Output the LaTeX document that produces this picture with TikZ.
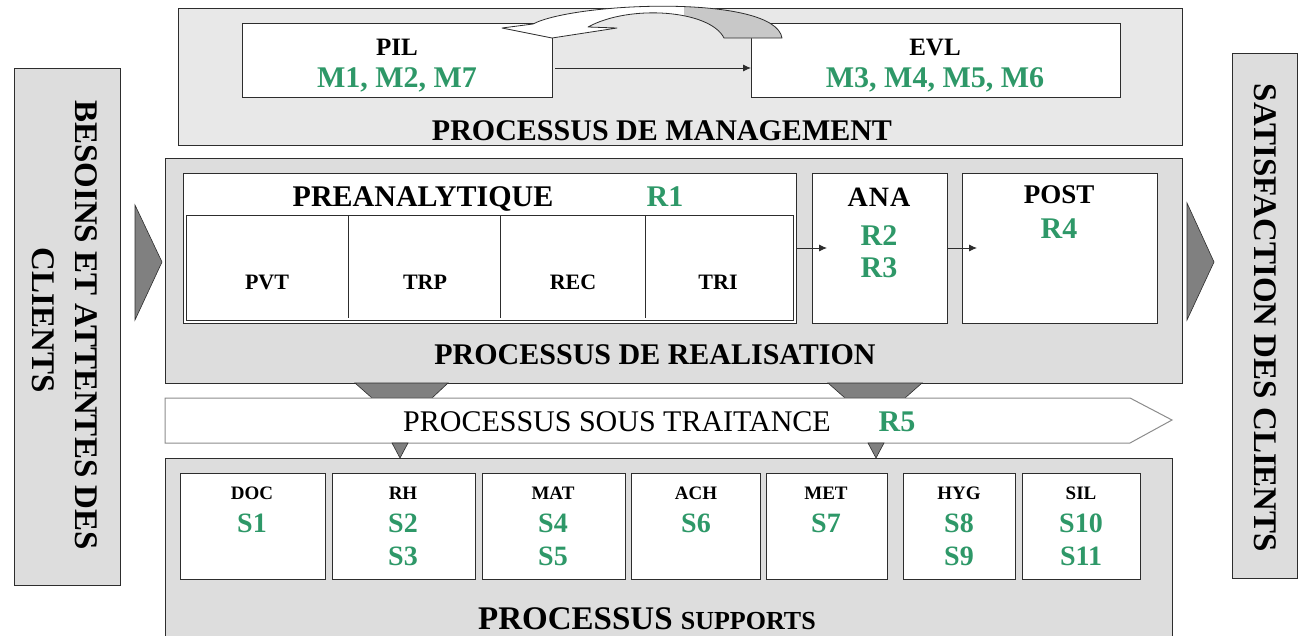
\documentclass[tikz,border=0pt]{standalone}
\usepackage{fontspec}
\setmainfont{Liberation Serif}
\usetikzlibrary{arrows.meta,calc}
\definecolor{grn}{RGB}{46,152,104}
\definecolor{lgray}{RGB}{232,232,232}
\definecolor{mgray}{RGB}{221,221,221}
\definecolor{dgray}{RGB}{128,128,128}
\definecolor{agray}{RGB}{200,200,200}
\definecolor{edge}{RGB}{45,45,45}
\tikzset{
  box/.style={draw=edge, line width=1pt, inner sep=0pt, outer sep=0pt, anchor=north west},
  wbox/.style={box, fill=white},
  gbox/.style={box, fill=mgray},
  txt/.style={inner sep=0pt, text depth=0pt, font=\bfseries\fontsize{#1}{#1}\selectfont},
  gtxt/.style={txt=#1, text=grn},
  rtxt/.style={inner sep=0pt, text depth=0pt, font=\fontsize{#1}{#1}\selectfont},
  conn/.style={draw=edge, line width=0.9pt, -{Latex[length=8pt,width=7pt]}},
  tri/.style={fill=dgray, draw=edge, line width=0.6pt},
}
\begin{document}
\begin{tikzpicture}[x=1pt,y=-1pt]
\useasboundingbox (0,0) rectangle (1300,635);
\clip (0,0) rectangle (1300,635);

% ---------- side boxes ----------
\node[gbox, minimum width=106pt, minimum height=517pt] (besoin) at (14,68) {};
\node[txt=33, rotate=-90] (besointxt) at (86,325) {BESOINS ET ATTENTES DES};
\node[txt=33, rotate=-90] (besointxtb) at (43,320) {CLIENTS};
\node[gbox, minimum width=65pt, minimum height=525pt] (satis) at (1232,53) {};
\node[txt=33, rotate=-90] (satistxt) at (1265,318) {SATISFACTION DES CLIENTS};
\path[tri] (135,205) -- (162,262) -- (135,320) -- cycle;
\path[tri] (1187,203) -- (1214,262) -- (1187,320) -- cycle;

% ---------- management ----------
\node[box, fill=lgray, minimum width=1004pt, minimum height=137pt] (mgmt) at (178,8) {};
\node[wbox, minimum width=310pt, minimum height=74pt] (pil) at (242,23) {};
\node[wbox, minimum width=369pt, minimum height=74pt] (evl) at (751,23) {};
\node[txt=25] (piltxt) at (397,47) {PIL};
\node[gtxt=30] (pilm) at (397,78) {M1, M2, M7};
\node[txt=25] (evltxt) at (935,47) {EVL};
\node[gtxt=30] (evlm) at (935,78) {M3, M4, M5, M6};
\node[txt=30] (mgmttxt) at (662,131) {PROCESSUS DE MANAGEMENT};
\draw[conn] ([xshift=3pt,yshift=-8pt]pil.east) -- ([yshift=-8pt]evl.west);

% curved loop arrow
\def\mgmtloop{(502,28) -- (533,24) .. controls (575,2) and (775,-6) .. (782,38)
  -- (724,38) .. controls (710,10) and (630,4) .. (588,27) -- (617,28) -- (552,38) -- cycle}
\fill[white] \mgmtloop;
\begin{scope}
  \clip (684,-5) rectangle (800,45);
  \fill[agray] \mgmtloop;
\end{scope}
\draw[edge, line width=0.8pt, line join=round] \mgmtloop;

% ---------- realisation ----------
\node[gbox, minimum width=1017pt, minimum height=225pt] (real) at (165,158) {};
\node[wbox, minimum width=613pt, minimum height=150pt] (pre) at (183,173) {};
\node[box, minimum width=607pt, minimum height=105pt, line width=0.9pt] (preinner) at (186,215) {};
\draw[edge, line width=0.9pt] (348,215) -- (348,318) (500,215) -- (500,318) (645,215) -- (645,318);
\node[txt=30] (pretxt) at (423,197) {PREANALYTIQUE};
\node[gtxt=30] (r1) at (665,197) {R1};
\node[txt=22] (pvt) at (267,282) {PVT};
\node[txt=22] (trp) at (425,282) {TRP};
\node[txt=22] (rec) at (573,282) {REC};
\node[txt=22] (tri) at (718,282) {TRI};
\node[wbox, minimum width=135pt, minimum height=150pt] (ana) at (812,173) {};
\node[wbox, minimum width=195pt, minimum height=150pt] (post) at (962,173) {};
\node[txt=28] (anatxt) at (879,197) {A\kern1pt N\kern1pt A};
\node[gtxt=30] (r2) at (879,236) {R2};
\node[gtxt=30] (r3) at (879,268) {R3};
\node[txt=27] (posttxt) at (1059,195) {POST};
\node[gtxt=30] (r4) at (1059,229) {R4};
\node[txt=30] (realtxt) at (655,355) {PROCESSUS DE REALISATION};
\draw[conn, shorten >=-15pt] (pre.east) -- (ana.west);
\draw[conn, shorten >=-15pt] (ana.east) -- (post.west);

% ---------- sous traitance ----------
\path[tri] (355,383) -- (448,383) -- (432,398) -- (372,398) -- cycle;
\path[tri] (828,383) -- (922,383) -- (905,398) -- (845,398) -- cycle;
\path[fill=white, draw=black!45, line width=1pt] (165,398) -- (1130,398) -- (1172,420) -- (1130,443) -- (165,443) -- cycle;
\node[rtxt=30] (sttxt) at (617,422) {PROCESSUS SOUS TRAITANCE};
\node[gtxt=30] (r5) at (897,422) {R5};
\path[tri] (392,443) -- (408,443) -- (400,458) -- cycle;
\path[tri] (868,443) -- (884,443) -- (876,458) -- cycle;

% ---------- supports ----------
\node[gbox, minimum width=1007pt, minimum height=190pt] (supp) at (165,458) {};
\node[wbox, minimum width=145pt, minimum height=106pt] (doc) at (180,473) {};
\node[wbox, minimum width=143pt, minimum height=106pt] (rh) at (332,473) {};
\node[wbox, minimum width=143pt, minimum height=106pt] (mat) at (482,473) {};
\node[wbox, minimum width=129pt, minimum height=106pt] (ach) at (631,473) {};
\node[wbox, minimum width=121pt, minimum height=106pt] (met) at (766,473) {};
\node[wbox, minimum width=112pt, minimum height=106pt] (hyg) at (903,473) {};
\node[wbox, minimum width=118pt, minimum height=106pt] (sil) at (1022,473) {};
\node[txt=19] (doct) at (252,493) {DOC};
\node[gtxt=28] (s1) at (252,523) {S1};
\node[txt=19] (rht) at (403,493) {RH};
\node[gtxt=28] (s2) at (403,523) {S2};
\node[gtxt=28] (s3) at (403,556) {S3};
\node[txt=19] (matt) at (553,493) {MAT};
\node[gtxt=28] (s4) at (553,523) {S4};
\node[gtxt=28] (s5) at (553,556) {S5};
\node[txt=19] (acht) at (696,493) {ACH};
\node[gtxt=28] (s6) at (696,523) {S6};
\node[txt=19] (mett) at (826,493) {MET};
\node[gtxt=28] (s7) at (826,523) {S7};
\node[txt=19] (hygt) at (959,493) {HYG};
\node[gtxt=28] (s8) at (959,523) {S8};
\node[gtxt=28] (s9) at (959,556) {S9};
\node[txt=19] (silt) at (1081,493) {SIL};
\node[gtxt=28] (s10) at (1081,523) {S10};
\node[gtxt=28] (s11) at (1081,556) {S11};
\node[txt=33, anchor=base] (supptxt) at (647,629) {PROCESSUS {\fontsize{26}{26}\selectfont SUPPORTS}};
\end{tikzpicture}
\end{document}
